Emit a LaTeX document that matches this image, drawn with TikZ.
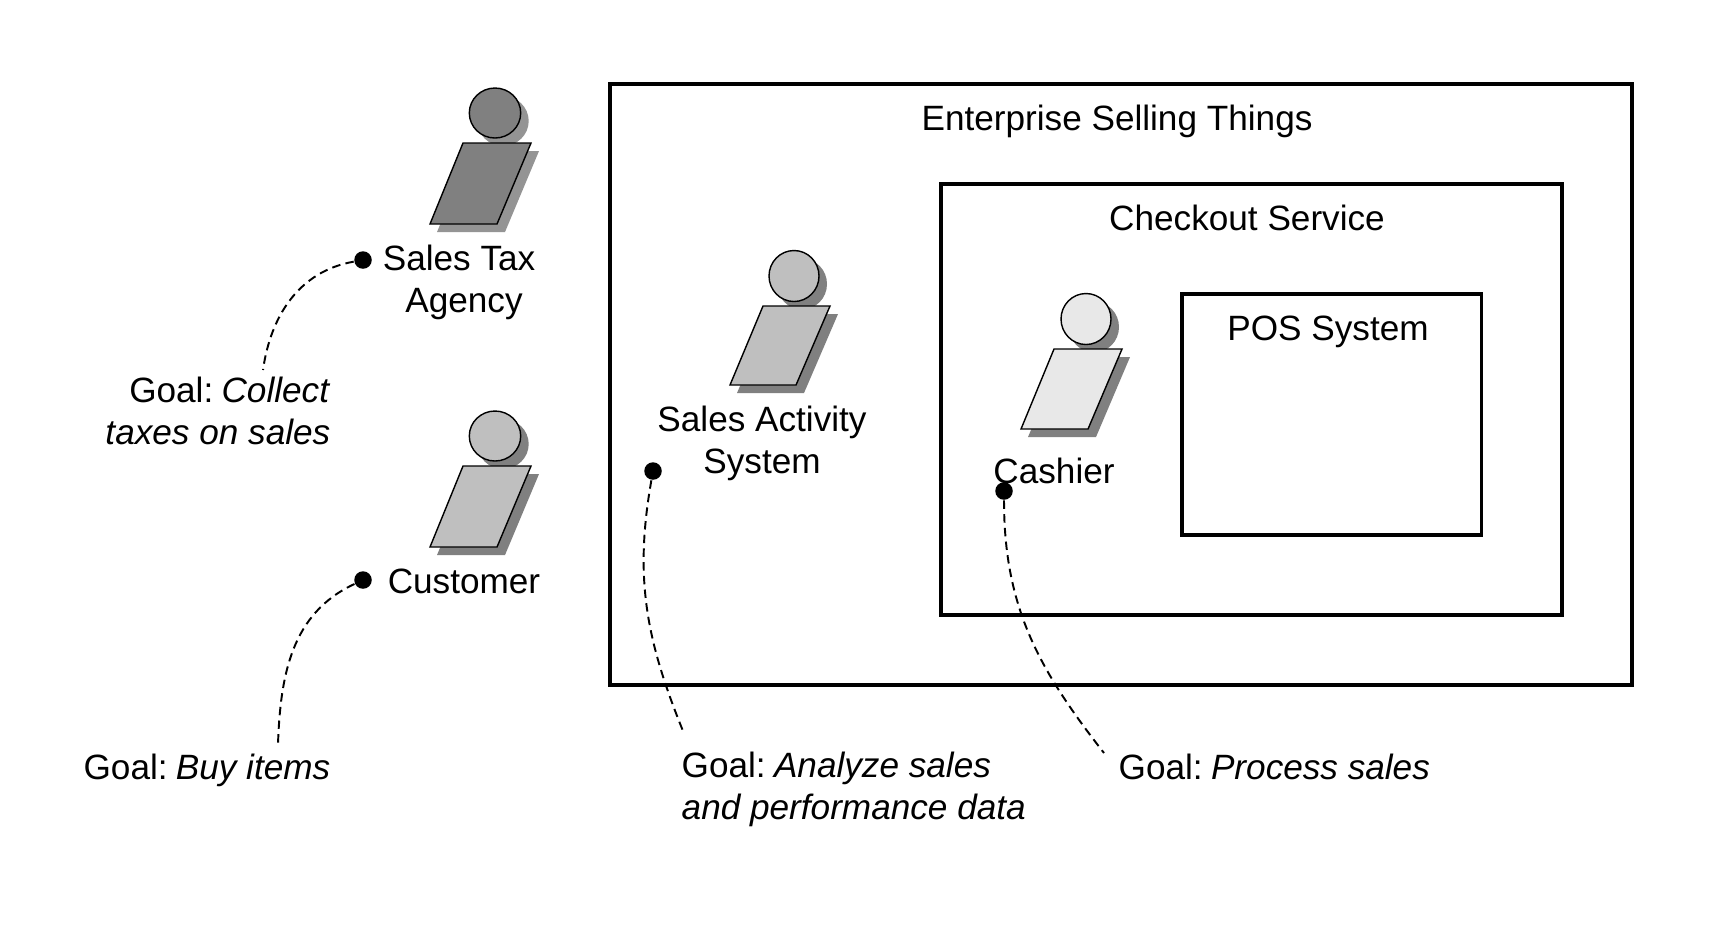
\documentclass[tikz,border=0pt]{standalone}
\usepackage{fontspec}
\setmainfont{Liberation Sans}
\newcommand{\goalword}{Goal:\hspace{2.35pt}}
\begin{document}
\begin{tikzpicture}[x=0.01cm,y=-0.01cm,every node/.style={font=\fontsize{10}{11.9}\selectfont,inner sep=0pt},
box/.style={draw=black,line width=0.9pt},
outline/.style={draw=black,line width=0.4pt},
goaldot/.style={circle,fill=black,minimum size=0.175cm},
goalline/.style={line width=0.55pt,dash pattern=on 2.4pt off 1.5pt}]
\useasboundingbox (0,0) rectangle (1716,926);
\fill[fill=white] (0,0) rectangle (1716,926);
\draw[box] (610,84) rectangle (1632,685);
\draw[box] (941,184) rectangle (1562,615);
\draw[box] (1182,294) rectangle (1481.5,535);
% sales tax agency
\fill[fill=black!42] (503,121) ellipse (25.7 and 25);
\fill[fill=black!42] (471,151)--(539,151)--(505,232)--(437,232)--cycle;
\draw[outline,fill=black!50] (463,143)--(531,143)--(497,224)--(430,224)--cycle;
\draw[outline,fill=black!50] (495,113) ellipse (25.7 and 25);
% customer
\fill[fill=black!50] (503,444) ellipse (25.7 and 25);
\fill[fill=black!50] (471,474)--(539,474)--(505,555)--(437,555)--cycle;
\draw[outline,fill=black!25] (463,466)--(531,466)--(497,547)--(430,547)--cycle;
\draw[outline,fill=black!25] (495,436) ellipse (25.7 and 25);
% sales activity system
\fill[fill=black!50] (802,284) ellipse (25 and 25.5);
\fill[fill=black!50] (771,314)--(838,314)--(804,393)--(737,393)--cycle;
\draw[outline,fill=black!25] (763,306)--(830,306)--(796,385)--(730,385)--cycle;
\draw[outline,fill=black!25] (794,276) ellipse (25 and 25.5);
% cashier
\fill[fill=black!50] (1094,327) ellipse (25 and 25.5);
\fill[fill=black!50] (1062,357)--(1130,357)--(1096,437)--(1028,437)--cycle;
\draw[outline,fill=black!9] (1054,349)--(1122,349)--(1088,429)--(1021,429)--cycle;
\draw[outline,fill=black!9] (1086,319) ellipse (25 and 25.5);
% labels
\node (enterprise) at (1117,121) {Enterprise Selling Things};
\node (checkout) at (1247,218) {Checkout Service};
\node (pos) at (1328,332) {POS System};
\node [align=center] (taxagency) at (464,282) {Sales Tax\hspace*{0.28em}\\Agency};
\node (customer) at (464,581) {Customer};
\node [align=center] (salesactivity) at (762,443) {Sales Activity\\System};
\node (cashier) at (1054,471) {Cashier};
\node [align=right,anchor=east] (goaltax) at (331,411) {\goalword\textit{Collect}\\\textit{taxes on sales}};
\node [anchor=east] (goalbuy) at (331,770) {\goalword\textit{Buy items}};
\node [align=left,anchor=west] (goalanalyze) at (681,789) {\goalword\textit{Analyze sales}\\\textit{and performance data}};
\node [anchor=west] (goalprocess) at (1118,767) {\goalword\textit{Process sales}};
% goals
\node [goaldot] (taxdot) at (363,260) {};
\node [goaldot] (customerdot) at (363,580) {};
\node [goaldot] (activitydot) at (653,471) {};
\node [goaldot] (cashierdot) at (1004,491) {};
\coordinate (taxend) at (263,370);
\coordinate (customerend) at (278,744);
\coordinate (activityend) at (683,731);
\coordinate (cashierend) at (1104,753);
\draw[goalline] (taxdot) to[out=190,in=82] (taxend);
\draw[goalline] (customerdot) to[out=205,in=88] (customerend);
\draw[goalline] (activitydot) to[out=260,in=112] (activityend);
\draw[goalline] (cashierdot) to[out=270,in=128] (cashierend);
\end{tikzpicture}
\end{document}
